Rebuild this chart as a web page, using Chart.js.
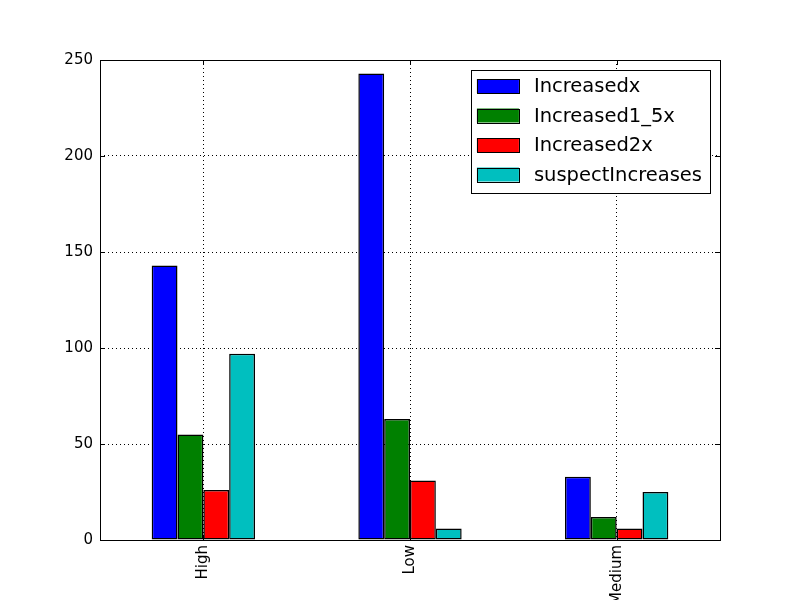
<!DOCTYPE html>
<html>
<head>
<meta charset="utf-8">
<script src="https://cdn.jsdelivr.net/npm/chart.js@4/dist/chart.umd.min.js"></script>
<style>
  html, body { margin: 0; padding: 0; background: #fff; overflow: hidden; }
</style>
</head>
<body>
<canvas id="chart" width="800" height="600"></canvas>
<script>
const categories = ["High", "Low", "Medium"];
const increasedx = [143, 243, 33];
const increased1_5x = [55, 63, 12];
const increased2x = [26, 31, 6];
const suspectIncreases = [97, 6, 25];
const yTicks = [0, 50, 100, 150, 200, 250];

const FONT = "DejaVu Sans";

// box round the plot area plus inward tick marks, like matplotlib classic
const frame = {
    id: "frame",
    afterDatasetsDraw(chart) {
        const ctx = chart.ctx;
        const a = chart.chartArea;
        const xs = chart.scales.x;
        const ys = chart.scales.y;
        ctx.save();
        ctx.strokeStyle = "#000";
        ctx.lineWidth = 1;
        ctx.beginPath();
        xs.ticks.forEach((t, i) => {
            const x = Math.round(xs.getPixelForTick(i)) + 0.5;
            ctx.moveTo(x, a.bottom); ctx.lineTo(x, a.bottom - 5);
            ctx.moveTo(x, a.top); ctx.lineTo(x, a.top + 5);
        });
        ys.ticks.forEach(t => {
            const y = Math.round(ys.getPixelForValue(t.value)) + 0.5;
            ctx.moveTo(a.left, y); ctx.lineTo(a.left + 5, y);
            ctx.moveTo(a.right, y); ctx.lineTo(a.right - 5, y);
        });
        ctx.stroke();
        ctx.strokeRect(Math.round(a.left) + 0.5, Math.round(a.top) + 0.5,
            Math.round(a.right - a.left), Math.round(a.bottom - a.top));
        ctx.restore();
    }
};

// legend inside the top right of the plot, with a box
const boxLegend = {
    id: "boxLegend",
    afterDraw(chart) {
        const ctx = chart.ctx;
        const a = chart.chartArea;
        const sets = chart.data.datasets;
        ctx.save();
        ctx.font = "19.5px '" + FONT + "'";
        let maxW = 0;
        sets.forEach(d => { maxW = Math.max(maxW, ctx.measureText(d.label).width); });
        const rowH = 29.5;
        const w = 6 + 42 + 15 + maxW + 8;
        const h = 123;
        const x0 = a.right - 10 - w;
        const y0 = a.top + 10;
        ctx.fillStyle = "#fff";
        ctx.fillRect(x0, y0, w, h);
        ctx.strokeStyle = "#000";
        ctx.lineWidth = 1;
        ctx.strokeRect(Math.round(x0) + 0.5, Math.round(y0) + 0.5, Math.round(w), Math.round(h));
        ctx.textBaseline = "middle";
        sets.forEach((d, i) => {
            const cy = y0 + 16 + i * rowH;
            ctx.fillStyle = d.backgroundColor;
            ctx.fillRect(x0 + 6, cy - 7, 42, 14);
            ctx.strokeRect(Math.round(x0 + 6) + 0.5, Math.round(cy - 7) + 0.5, 42, 14);
            ctx.fillStyle = "#000";
            ctx.fillText(d.label, x0 + 6 + 42 + 15, cy + 1);
        });
        ctx.restore();
    }
};

function barSet(label, data, color) {
    return {
        label: label,
        data: data,
        backgroundColor: color,
        borderColor: "#000",
        borderWidth: 1.5,
        borderSkipped: false,
        categoryPercentage: 0.5,
        barPercentage: 1.0
    };
}

new Chart(document.getElementById("chart"), {
    type: "bar",
    data: {
        labels: categories,
        datasets: [
            barSet("Increasedx", increasedx, "#0000ff"),
            barSet("Increased1_5x", increased1_5x, "#008000"),
            barSet("Increased2x", increased2x, "#ff0000"),
            barSet("suspectIncreases", suspectIncreases, "#00bfbf")
        ]
    },
    options: {
        responsive: false,
        animation: false,
        layout: { padding: { left: 0, top: 60, right: 80, bottom: 0 } },
        plugins: {
            legend: { display: false },
            tooltip: { enabled: false }
        },
        scales: {
            x: {
                afterFit(scale) { scale.height = 60; },
                grid: { offset: false, color: "#000", lineWidth: 1, drawTicks: false },
                border: { display: false, dash: [1, 3] },
                ticks: {
                    color: "#000",
                    font: { family: FONT, size: 15 },
                    minRotation: 90,
                    maxRotation: 90,
                    padding: 5
                }
            },
            y: {
                min: 0,
                max: 250,
                afterFit(scale) { scale.width = 100; },
                afterBuildTicks(scale) { scale.ticks = yTicks.map(v => ({ value: v })); },
                grid: { color: "#000", lineWidth: 1, drawTicks: false },
                border: { display: false, dash: [1, 3] },
                ticks: {
                    color: "#000",
                    font: { family: FONT, size: 15 },
                    padding: 7
                }
            }
        }
    },
    plugins: [frame, boxLegend]
});
</script>
</body>
</html>
